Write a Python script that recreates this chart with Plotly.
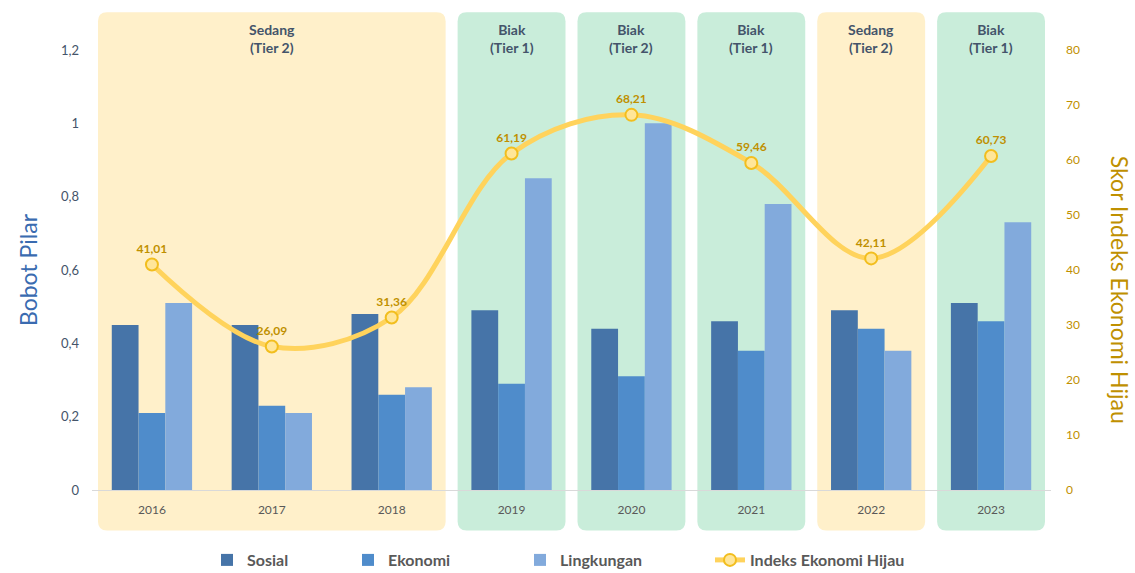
import plotly.graph_objects as go

# Data
years = ["2016", "2017", "2018", "2019", "2020", "2021", "2022", "2023"]
sosial = [0.45, 0.45, 0.48, 0.49, 0.44, 0.46, 0.49, 0.51]
ekonomi = [0.21, 0.23, 0.26, 0.29, 0.31, 0.38, 0.44, 0.46]
lingkungan = [0.51, 0.21, 0.28, 0.85, 1.00, 0.78, 0.38, 0.73]
indeks = [41.01, 26.09, 31.36, 61.19, 68.21, 59.46, 42.11, 60.73]

# status bands: (first year index, last year index, label, kind)
bands = [
    (0, 2, "Sedang<br>(Tier 2)", "sedang"),
    (3, 3, "Biak<br>(Tier 1)", "biak"),
    (4, 4, "Biak<br>(Tier 2)", "biak"),
    (5, 5, "Biak<br>(Tier 1)", "biak"),
    (6, 6, "Sedang<br>(Tier 2)", "sedang"),
    (7, 7, "Biak<br>(Tier 1)", "biak"),
]

W, H = 1135, 573
margin = dict(l=92, r=84, t=50, b=83)
plot_w = W - margin["l"] - margin["r"]
plot_h = H - margin["t"] - margin["b"]
x_range = [-0.5, len(years) - 0.5]

band_colors = {"sedang": "#FFF0CA", "biak": "#C9EDDA"}
FONT = "Lato, 'Open Sans', sans-serif"


def to_paper(xv):
    return (xv - x_range[0]) / (x_range[1] - x_range[0])


def rounded_rect(x0, x1, y0, y1, r_px=9):
    rx = r_px / plot_w
    ry = r_px / plot_h
    return (f"M {x0 + rx},{y0} L {x1 - rx},{y0} Q {x1},{y0} {x1},{y0 + ry} "
            f"L {x1},{y1 - ry} Q {x1},{y1} {x1 - rx},{y1} "
            f"L {x0 + rx},{y1} Q {x0},{y1} {x0},{y1 - ry} "
            f"L {x0},{y0 + ry} Q {x0},{y0} {x0 + rx},{y0} Z")


fig = go.Figure()

fig.add_trace(go.Bar(x=years, y=sosial, name="Sosial", marker_color="#4674A8",
                     marker_line_width=0, legend="legend"))
fig.add_trace(go.Bar(x=years, y=ekonomi, name="Ekonomi", marker_color="#4F8CCB",
                     marker_line_width=0, legend="legend2"))
fig.add_trace(go.Bar(x=years, y=lingkungan, name="Lingkungan", marker_color="#82AADC",
                     marker_line_width=0, legend="legend3"))

fig.add_trace(go.Scatter(
    x=years, y=indeks, name="Indeks Ekonomi Hijau", yaxis="y2", legend="legend4",
    mode="lines+markers+text",
    line=dict(color="#FFD35C", width=5, shape="spline", smoothing=1.0),
    marker=dict(size=12, color="#FFE699", line=dict(color="#F2BE1E", width=2)),
    text=[f"{v:.2f}".replace(".", ",") for v in indeks],
    textposition="top center",
    textfont=dict(color="#BF9000", size=12, family=FONT, weight="bold"),
    cliponaxis=False,
))

shapes = []
annotations = []
for i0, i1, label, kind in bands:
    x0 = to_paper(i0 - 0.45)
    x1 = to_paper(i1 + 0.45)
    shapes.append(dict(type="path", xref="paper", yref="paper",
                       path=rounded_rect(x0, x1, -0.092, 1.086),
                       fillcolor=band_colors[kind], line_width=0, layer="below"))
    annotations.append(dict(x=(x0 + x1) / 2, y=1.0255, xref="paper", yref="paper",
                            xanchor="center", yanchor="middle",
                            text=f"<b>{label}</b>", showarrow=False,
                            font=dict(size=14, color="#44546A", family=FONT)))

annotations.append(dict(x=1.0 + 69 / plot_w, y=0.455, xref="paper", yref="paper",
                        xanchor="center", yanchor="middle",
                        text="Skor Indeks Ekonomi Hijau", textangle=90, showarrow=False,
                        font=dict(size=23, color="#BF9000", family=FONT)))

# one small legend per series so each entry sits where the reference has it
legend_left_px = [207, 348, 520, 710]
legend_style = dict(orientation="h", xref="container", yref="container",
                    xanchor="left", y=(H - 560) / H, yanchor="middle",
                    font=dict(size=16, color="#595959", weight="bold"),
                    bgcolor="rgba(0,0,0,0)")
legends = {}
for k, px in enumerate(legend_left_px):
    key = "legend" if k == 0 else f"legend{k + 1}"
    legends[key] = dict(legend_style, x=px / W)

fig.update_layout(
    width=W, height=H, margin=margin,
    paper_bgcolor="white", plot_bgcolor="rgba(0,0,0,0)",
    separators=", ",
    font=dict(family=FONT, color="#595959", size=12),
    barmode="group", bargap=0.33, bargroupgap=0,
    shapes=shapes, annotations=annotations,
    xaxis=dict(range=x_range, showgrid=False, showline=True, linecolor="#D9D9D9",
               ticks="", tickfont=dict(size=12, color="#595959"), zeroline=False,
               ticklabelstandoff=9, automargin=False),
    yaxis=dict(range=[0, 1.2], dtick=0.2, showgrid=False, zeroline=False,
               tickfont=dict(size=13, color="#44546A"), ticklabelstandoff=12,
               automargin=False,
               title=dict(text="Bobot Pilar", font=dict(size=23, color="#3A6BB0"),
                          standoff=16)),
    yaxis2=dict(range=[0, 80], dtick=10, overlaying="y", side="right",
                showgrid=False, zeroline=False, ticklabelstandoff=14,
                automargin=False,
                tickfont=dict(size=12, color="#BF9000")),
    showlegend=True,
    **legends,
)

fig.write_html("out.html", config={"displayModeBar": False},
               post_script="document.body.style.margin = '0';")
